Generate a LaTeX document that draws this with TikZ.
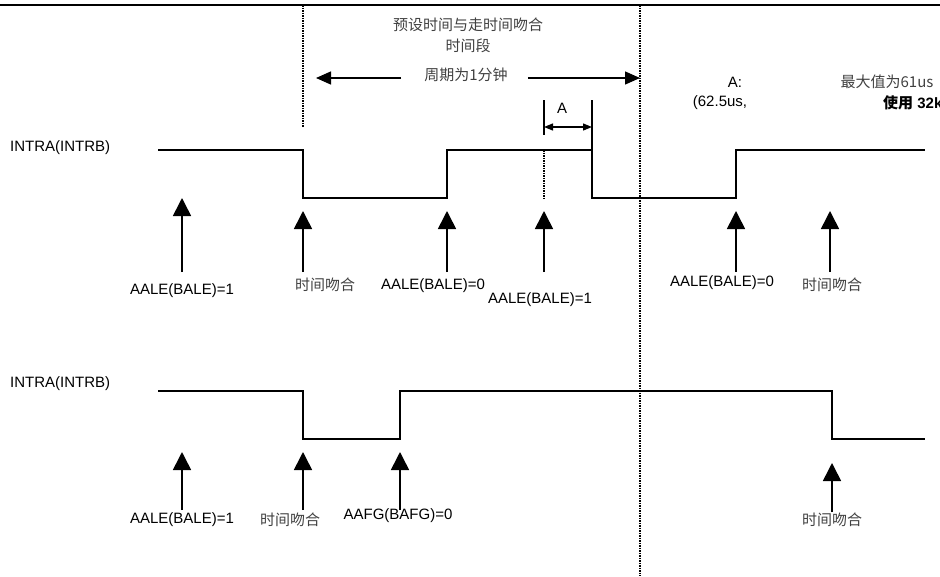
\documentclass[tikz,border=0pt]{standalone}
\usepackage{fontspec}
\setmainfont{Liberation Sans}
\newfontfamily\cjk{Noto Sans CJK SC}
\usetikzlibrary{arrows.meta}

\begin{document}
\begin{tikzpicture}
			[x=1pt,y=-1pt,every node/.style={inner sep=0pt,font=\fontsize{15}{17}\selectfont},
			sig/.style={line width=1.6pt},
			cn/.style={font=\fontsize{15}{17}\selectfont\cjk,text=black!75},
			trig/.style={line width=1.6pt,-{Triangle[length=18pt,width=18pt]}},
			sep/.style={line width=1.4pt,dash pattern=on 1.5pt off 1pt},
			span/.style={line width=1.4pt,-{Triangle[length=15pt,width=13pt]}}]
			\useasboundingbox (0,0) rectangle (940,576);
			\draw [line width=2pt] (0,5) -- (940,5);
			% separators
			\draw [sep] (303,5) -- (303,127);
			\draw [sep] (640,5) -- (640,576);
			% period
			\node (t1) [cn] at (468,25) {预设时间与走时间吻合};
			\node (t2) [cn] at (468,46) {时间段};
			\node (per) [cn] at (466,75) {周期为1分钟};
			\coordinate (pl) at (316,78);
			\coordinate (pr) at (640,78);
			\draw [span] ([xshift=-23pt]per.west |- pl) -- (pl);
			\draw [span] ([xshift=20pt]per.east |- pr) -- (pr);
			% A marker
			\coordinate (ma) at (544,100);
			\coordinate (mb) at (592,100);
			\draw [line width=1.5pt] (ma) -- (544,135);
			\draw [line width=1.5pt] (mb) -- (592,150);
			\draw [line width=1.2pt,{Triangle[length=9pt,width=7pt]}-{Triangle[length=9pt,width=7pt]}] (544,127) -- (592,127);
			\node (lA) at (562,108) {A};
			\draw [sep,line width=1.2pt] (544,150) -- (544,198);
			% notes right
			\node (n1) at (735,82) {A:};
			\node (n2) at (720,103) {(62.5us,};
			\node (n3) [cn] at (887,82) {最大值为61us};
			\node (n4) [anchor=west] at (883,103) {{\cjk\bfseries 使用} \textbf{32k}};
			% signals
			\node (s1) [anchor=west] at (10,148) {INTRA(INTRB)};
			\node (s2) [anchor=west] at (10,384) {INTRA(INTRB)};
			\draw [sig] (158,150) -- (303,150) -- (303,198) -- (447,198) -- (447,150) -- (592,150) -- (592,198) -- (736,198) -- (736,150) -- (925,150);
			\draw [sig] (158,391) -- (303,391) -- (303,439) -- (400,439) -- (400,391) -- (832,391) -- (832,439) -- (925,439);
			% trigger arrows
			\foreach \i/\x/\t/\b in {1/182/198/272, 2/303/211/272, 3/447/211/272, 4/544/211/272, 5/736/211/272, 6/830/211/272, 7/182/452/510, 8/303/452/510, 9/400/452/510, 10/832/463/512}
			{
				\coordinate (b\i) at (\x,\b);
				\coordinate (a\i) at (\x,\t);
				\draw [trig] (b\i) -- (a\i);
			}
			\node (l1) at (182,291) {AALE(BALE)=1};
			\node (l2) [cn] at (325,285) {时间吻合};
			\node (l3) at (433,286) {AALE(BALE)=0};
			\node (l4) at (540,300) {AALE(BALE)=1};
			\node (l5) at (722,283) {AALE(BALE)=0};
			\node (l6) [cn] at (832,285) {时间吻合};
			\node (l7) at (182,520) {AALE(BALE)=1};
			\node (l8) [cn] at (290,520) {时间吻合};
			\node (l9) at (398,516) {AAFG(BAFG)=0};
			\node (l10) [cn] at (832,520) {时间吻合};
		\end{tikzpicture}
\end{document}
